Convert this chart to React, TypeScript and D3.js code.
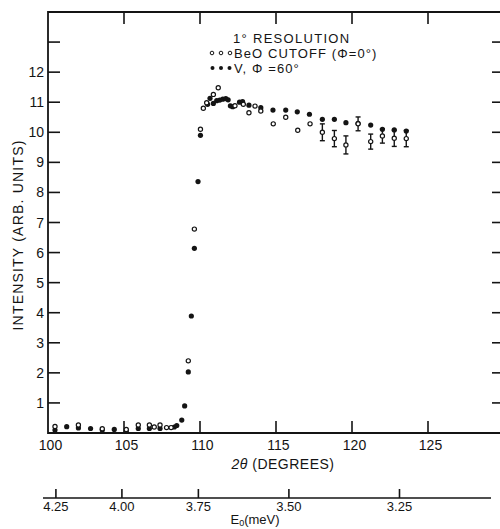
import React from "react";
import * as d3 from "d3";

// BeO cutoff (Φ=0°) — open circles
const beoAngle = [100.46, 102.0, 103.57, 105.15, 105.94, 106.67, 106.99, 107.37, 107.8, 108.1, 109.23, 109.63, 110.03, 110.22, 110.44, 110.88, 111.2, 112.3, 112.85, 113.22, 113.62, 114.0, 114.82, 115.64, 116.43, 117.24, 118.05, 118.84, 119.6, 120.4, 121.23, 122.0, 122.78, 123.57];
const beoIntensity = [0.22, 0.27, 0.14, 0.12, 0.27, 0.27, 0.2, 0.27, 0.18, 0.18, 2.4, 6.78, 10.1, 10.8, 10.98, 11.26, 11.48, 10.88, 10.93, 10.65, 10.87, 10.71, 10.28, 10.5, 10.07, 10.28, 10.0, 9.79, 9.58, 10.28, 9.69, 9.88, 9.8, 9.79];
const beoError = [0, 0, 0, 0, 0, 0, 0, 0, 0, 0, 0, 0, 0, 0, 0, 0, 0, 0, 0, 0, 0, 0, 0, 0, 0, 0, 0.28, 0.27, 0.3, 0.23, 0.25, 0.24, 0.27, 0.27];

// V, Φ=60° — filled circles
const vAngle = [100.46, 101.23, 102.0, 102.8, 103.57, 104.36, 105.15, 105.94, 106.67, 107.37, 108.31, 108.47, 108.8, 108.99, 109.23, 109.43, 109.63, 109.87, 110.03, 110.5, 110.66, 110.88, 111.1, 111.3, 111.5, 111.7, 111.85, 112.0, 112.15, 112.6, 112.8, 113.22, 114.0, 114.8, 115.64, 116.4, 117.2, 118.05, 118.84, 119.6, 120.4, 121.23, 122.0, 122.78, 123.57];
const vIntensity = [0.1, 0.21, 0.17, 0.15, 0.1, 0.12, 0.05, 0.15, 0.15, 0.15, 0.2, 0.25, 0.43, 0.9, 2.03, 3.89, 6.14, 8.36, 9.9, 10.93, 11.13, 10.96, 11.05, 11.07, 11.1, 11.12, 11.08, 10.88, 10.85, 11.0, 11.02, 10.9, 10.82, 10.74, 10.74, 10.68, 10.6, 10.43, 10.43, 10.32, 10.3, 10.24, 10.1, 10.08, 10.04];

const angleTicks = [100, 105, 110, 115, 120, 125];
const intensityTicks = [1, 2, 3, 4, 5, 6, 7, 8, 9, 10, 11, 12, 13];
const intensityLabels = [1, 2, 3, 4, 5, 6, 7, 8, 9, 10, 11, 12];
const energyTicks = [4.25, 4.0, 3.75, 3.5, 3.25];
const BRAGG_C = 2.513; // E * sin^2(theta) constant (meV)

const W = 500;
const H = 529;
const INK = "#141414";
const FONT = "'Liberation Sans', Arial, sans-serif";

export default function App() {
  const x = d3.scaleLinear().domain([100, 130]).range([48, 504]);
  const y = d3.scaleLinear().domain([0, 14]).range([433, 12]);
  const energyToAngle = (e: number) => (2 * Math.asin(Math.sqrt(BRAGG_C / e)) * 180) / Math.PI;
  const xE = (e: number) => x(energyToAngle(e));

  const left = x(100);
  const right = x(130);
  const top = y(14);
  const bottom = y(0);
  const tickLen = 12;
  const eAxisY = 498;

  return (
    <svg
      width={W}
      height={H}
      viewBox={`0 0 ${W} ${H}`}
      style={{ position: "absolute", left: 0, top: 0, background: "#fff" }}
      fontFamily={FONT}
    >
      <rect x={0} y={0} width={W} height={H} fill="#fff" />
      {/* frame */}
      <path
        d={`M${left},${top}H${right}V${bottom}H${left}Z`}
        fill="none"
        stroke={INK}
        strokeWidth={1.8}
      />
      {/* left & right ticks */}
      {intensityTicks.map((t) => (
        <g key={"yt" + t}>
          <line x1={left} x2={left + tickLen} y1={y(t)} y2={y(t)} stroke={INK} strokeWidth={1.6} />
          <line x1={right - tickLen} x2={right} y1={y(t)} y2={y(t)} stroke={INK} strokeWidth={1.6} />
        </g>
      ))}
      {intensityLabels.map((t) => (
        <text
          key={"yl" + t}
          x={44}
          y={y(t)}
          dy="0.36em"
          textAnchor="end"
          fontSize={14}
          fill={INK}
        >
          {t}
        </text>
      ))}
      {/* top & bottom ticks */}
      {angleTicks
        .filter((t) => t > 100)
        .map((t) => (
          <g key={"xt" + t}>
            <line x1={x(t)} x2={x(t)} y1={top} y2={top + tickLen} stroke={INK} strokeWidth={1.6} />
            <line x1={x(t)} x2={x(t)} y1={bottom} y2={bottom - tickLen} stroke={INK} strokeWidth={1.6} />
          </g>
        ))}
      {angleTicks.map((t) => (
        <text key={"xl" + t} x={x(t) + 2.5} y={450} textAnchor="middle" fontSize={14} fill={INK}>
          {t}
        </text>
      ))}
      <text x={283} y={469} textAnchor="middle" fontSize={14} fill={INK} letterSpacing={0.5}>
        <tspan fontStyle="italic">2θ</tspan> (DEGREES)
      </text>
      {/* y label */}
      <text
        transform={`translate(23,235) rotate(-90)`}
        textAnchor="middle"
        fontSize={14}
        fill={INK}
        letterSpacing={1.2}
      >
        INTENSITY (ARB. UNITS)
      </text>

      {/* energy axis */}
      <line x1={43} x2={491} y1={eAxisY} y2={eAxisY} stroke={INK} strokeWidth={1.6} />
      {energyTicks.map((e) => (
        <g key={"et" + e}>
          <line x1={xE(e)} x2={xE(e)} y1={eAxisY} y2={eAxisY - 9} stroke={INK} strokeWidth={1.6} />
          <text x={xE(e)} y={511} textAnchor="middle" fontSize={13} fill={INK}>
            {e.toFixed(2)}
          </text>
        </g>
      ))}
      <text x={255} y={524} textAnchor="middle" fontSize={13} fill={INK}>
        E<tspan fontSize={9} dy={2}>0</tspan>
        <tspan dy={-2}>(meV)</tspan>
      </text>

      {/* filled series */}
      {vAngle.map((a, i) => (
        <circle key={"v" + i} cx={x(a)} cy={y(vIntensity[i])} r={2.6} fill={INK} />
      ))}
      {/* open series with error bars */}
      {beoAngle.map((a, i) => {
        const cx = x(a);
        const cy = y(beoIntensity[i]);
        const e = beoError[i];
        return (
          <g key={"b" + i}>
            {e > 0 && (
              <g stroke={INK} strokeWidth={1.4}>
                <line x1={cx} x2={cx} y1={y(beoIntensity[i] - e)} y2={y(beoIntensity[i] + e)} />
                <line x1={cx - 2.5} x2={cx + 2.5} y1={y(beoIntensity[i] - e)} y2={y(beoIntensity[i] - e)} />
                <line x1={cx - 2.5} x2={cx + 2.5} y1={y(beoIntensity[i] + e)} y2={y(beoIntensity[i] + e)} />
              </g>
            )}
            <circle cx={cx} cy={cy} r={2.1} fill="#fff" stroke={INK} strokeWidth={1.2} />
          </g>
        );
      })}

      {/* legend */}
      <text x={233} y={43} fontSize={13} fill={INK} letterSpacing={1.3}>
        1° RESOLUTION
      </text>
      {[0, 1, 2].map((k) => (
        <circle key={"lo" + k} cx={212 + k * 9} cy={53} r={1.8} fill="#fff" stroke={INK} strokeWidth={1} />
      ))}
      <text x={234} y={58} fontSize={13} fill={INK} letterSpacing={1.1}>
        BeO CUTOFF (Φ=0°)
      </text>
      {[0, 1, 2].map((k) => (
        <circle key={"lf" + k} cx={212.5 + k * 8.5} cy={68} r={2} fill={INK} />
      ))}
      <text x={234} y={73} fontSize={13} fill={INK} letterSpacing={1.1}>
        V, Φ =60°
      </text>
    </svg>
  );
}
